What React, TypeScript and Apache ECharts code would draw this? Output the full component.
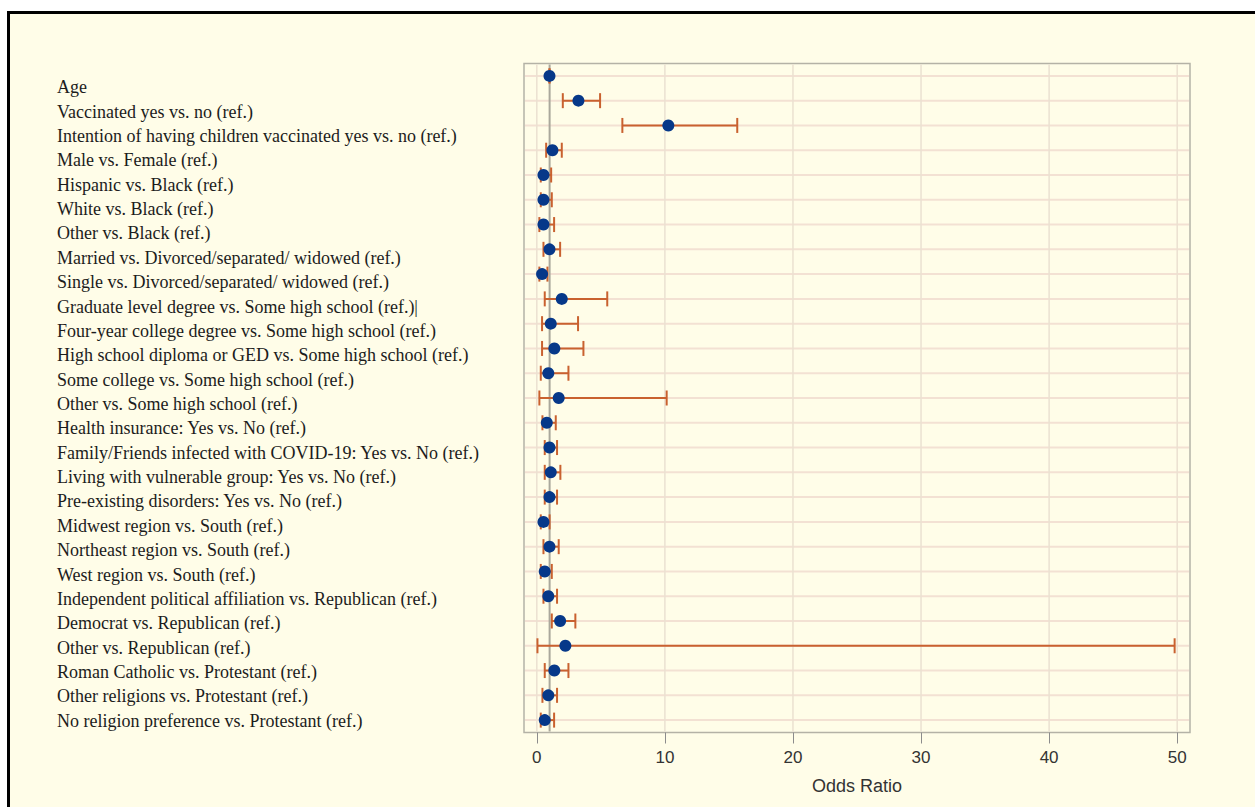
import React, { useEffect, useRef } from "react";
import * as echarts from "echarts";

const categories: string[] = [
  "Age",
  "Vaccinated yes vs. no (ref.)",
  "Intention of having children vaccinated yes vs. no (ref.)",
  "Male vs. Female (ref.)",
  "Hispanic vs. Black (ref.)",
  "White vs. Black (ref.)",
  "Other vs. Black (ref.)",
  "Married vs. Divorced/separated/ widowed (ref.)",
  "Single vs. Divorced/separated/ widowed (ref.)",
  "Graduate level degree vs. Some high school (ref.)|",
  "Four-year college degree vs. Some high school (ref.)",
  "High school diploma or GED vs. Some high school (ref.)",
  "Some college vs. Some high school (ref.)",
  "Other vs. Some high school (ref.)",
  "Health insurance: Yes vs. No (ref.)",
  "Family/Friends infected with COVID-19: Yes vs. No (ref.)",
  "Living with vulnerable group: Yes vs. No (ref.)",
  "Pre-existing disorders: Yes vs. No (ref.)",
  "Midwest region vs. South (ref.)",
  "Northeast region vs. South (ref.)",
  "West region vs. South (ref.)",
  "Independent political affiliation vs. Republican (ref.)",
  "Democrat vs. Republican (ref.)",
  "Other vs. Republican (ref.)",
  "Roman Catholic vs. Protestant (ref.)",
  "Other religions vs. Protestant (ref.)",
  "No religion preference vs. Protestant (ref.)",
];

const oddsRatios: number[] = [
  0.99, 3.25, 10.27, 1.22, 0.52, 0.52, 0.52, 0.99, 0.41, 1.95, 1.09, 1.37, 0.9,
  1.71, 0.78, 0.99, 1.09, 0.99, 0.52, 0.99, 0.62, 0.9, 1.82, 2.23, 1.37, 0.9, 0.62,
];

const lowerCI: number[] = [
  0.98, 2.03, 6.68, 0.73, 0.31, 0.31, 0.2, 0.52, 0.2, 0.62, 0.41, 0.41, 0.31,
  0.2, 0.44, 0.62, 0.62, 0.62, 0.31, 0.52, 0.31, 0.52, 1.17, 0.05, 0.62, 0.44, 0.31,
];

const upperCI: number[] = [
  1.0, 4.94, 15.65, 1.95, 1.12, 1.17, 1.35, 1.82, 0.83, 5.5, 3.22, 3.64, 2.47,
  10.14, 1.48, 1.58, 1.84, 1.58, 1.0, 1.71, 1.17, 1.58, 3.01, 49.8, 2.47, 1.58, 1.35,
];

const xTicks: number[] = [0, 10, 20, 30, 40, 50];
const referenceValues: number[] = [1];
const xMin = -1;
const xMax = 51;

const CREAM = "#fffde8";

export default function App() {
  const ref = useRef<HTMLDivElement>(null);

  useEffect(() => {
    if (!ref.current) return;
    const chart = echarts.init(ref.current, undefined, { renderer: "svg" });

    const ciData = categories.map((c, i) => [lowerCI[i], upperCI[i], i]);
    const orData = categories.map((c, i) => [oddsRatios[i], i]);
    const hGridData = categories.map((c, i) => [i]);
    const vGridData = xTicks.map((v) => [v]);
    const refData = referenceValues.map((v) => [v]);

    const option: any = {
      animation: false,
      backgroundColor: "transparent",
      grid: [
        {
          left: 524,
          right: 65,
          top: 63.5,
          height: 669,
          show: true,
          borderColor: "#b4b2a6",
          borderWidth: 1.5,
          backgroundColor: "transparent",
          containLabel: false,
        },
        {
          left: 10,
          width: 40,
          top: 75,
          height: 658,
          show: false,
          containLabel: false,
        },
      ],
      xAxis: [
        {
          gridIndex: 0,
          type: "value",
          min: xMin,
          max: xMax,
          name: "Odds Ratio",
          nameLocation: "middle",
          nameGap: 44,
          nameTextStyle: {
            fontFamily: "Liberation Sans",
            fontSize: 18,
            color: "#333",
          },
          axisLine: { show: false },
          axisTick: {
            show: true,
            customValues: xTicks,
            length: 11,
            lineStyle: { color: "#8c8c8c", width: 1 },
          },
          axisLabel: {
            customValues: xTicks,
            fontFamily: "Liberation Sans",
            fontSize: 17,
            color: "#333",
            margin: 16,
          },
          splitLine: { show: false },
        },
        {
          gridIndex: 1,
          type: "value",
          show: false,
        },
      ],
      yAxis: [
        {
          gridIndex: 0,
          type: "category",
          data: categories,
          inverse: true,
          axisLine: { show: false },
          axisTick: { show: false },
          axisLabel: { show: false },
          splitLine: { show: false },
        },
        {
          gridIndex: 1,
          type: "category",
          data: categories,
          inverse: true,
          position: "right",
          axisLine: { show: false },
          axisTick: { show: false },
          splitLine: { show: false },
          axisLabel: {
            show: true,
            interval: 0,
            align: "left",
            margin: 7,
            fontFamily: "Liberation Serif",
            fontSize: 18,
            color: "#1c1c1c",
          },
        },
      ],
      series: [
        {
          type: "custom",
          name: "hgrid",
          xAxisIndex: 0,
          yAxisIndex: 0,
          z: 1,
          silent: true,
          data: hGridData,
          encode: { y: 0 },
          renderItem: (params: any, api: any) => {
            const cs = params.coordSys;
            const y = api.coord([0, api.value(0)])[1];
            return {
              type: "line",
              shape: { x1: cs.x + 1, y1: y, x2: cs.x + cs.width - 1, y2: y },
              style: { stroke: "#f3e1d3", lineWidth: 2 },
            };
          },
        },
        {
          type: "custom",
          name: "vgrid",
          xAxisIndex: 0,
          yAxisIndex: 0,
          z: 1,
          silent: true,
          data: vGridData,
          encode: { x: 0 },
          renderItem: (params: any, api: any) => {
            const cs = params.coordSys;
            const x = api.coord([api.value(0), 0])[0];
            return {
              type: "line",
              shape: { x1: x, y1: cs.y + 1, x2: x, y2: cs.y + cs.height - 1 },
              style: { stroke: "#ebe1d1", lineWidth: 1.5 },
            };
          },
        },
        {
          type: "custom",
          name: "reference",
          xAxisIndex: 0,
          yAxisIndex: 0,
          z: 2,
          silent: true,
          data: refData,
          encode: { x: 0 },
          renderItem: (params: any, api: any) => {
            const cs = params.coordSys;
            const x = api.coord([api.value(0), 0])[0];
            return {
              type: "line",
              shape: { x1: x, y1: cs.y + 1, x2: x, y2: cs.y + cs.height - 1 },
              style: { stroke: "#aaa89c", lineWidth: 2 },
            };
          },
        },
        {
          type: "custom",
          name: "95% CI",
          xAxisIndex: 0,
          yAxisIndex: 0,
          z: 3,
          data: ciData,
          encode: { x: [0, 1], y: 2 },
          renderItem: (params: any, api: any) => {
            const lo = api.coord([api.value(0), api.value(2)]);
            const hi = api.coord([api.value(1), api.value(2)]);
            const h = 7.5;
            const style = { stroke: "#c9612f", lineWidth: 2, fill: "none" };
            return {
              type: "group",
              children: [
                { type: "line", shape: { x1: lo[0], y1: lo[1], x2: hi[0], y2: hi[1] }, style },
                { type: "line", shape: { x1: lo[0], y1: lo[1] - h, x2: lo[0], y2: lo[1] + h }, style },
                { type: "line", shape: { x1: hi[0], y1: hi[1] - h, x2: hi[0], y2: hi[1] + h }, style },
              ],
            };
          },
        },
        {
          type: "scatter",
          name: "Odds Ratio",
          xAxisIndex: 0,
          yAxisIndex: 0,
          z: 4,
          symbol: "circle",
          symbolSize: 12,
          itemStyle: { color: "#063889", opacity: 1 },
          data: orData,
        },
      ],
    };

    chart.setOption(option);
    return () => {
      chart.dispose();
    };
  }, []);

  return (
    <div
      style={{
        position: "absolute",
        left: 0,
        top: 0,
        width: 1255,
        height: 807,
        background: "#ffffff",
        overflow: "hidden",
      }}
    >
      <div
        style={{
          position: "absolute",
          left: 7,
          top: 11,
          right: 0,
          bottom: 0,
          background: CREAM,
          borderTop: "3px solid #000",
          borderLeft: "3px solid #000",
        }}
      />
      <div
        ref={ref}
        style={{ position: "absolute", left: 0, top: 0, width: 1255, height: 807 }}
      />
    </div>
  );
}
